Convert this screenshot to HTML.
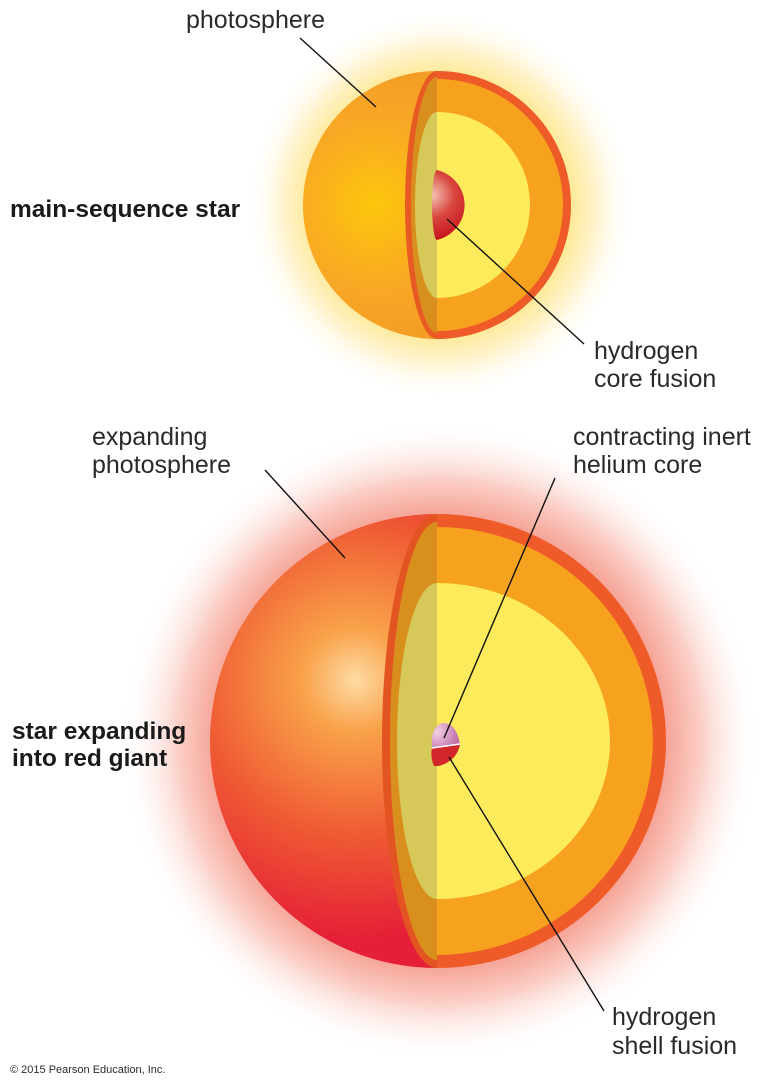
<!DOCTYPE html>
<html><head><style>
body{margin:0;background:#fff;}
svg{display:block;}
text{font-family:"Liberation Sans",sans-serif;fill:#2a2a2a;}
.l{font-size:25px;}
.b{font-size:24.5px;font-weight:bold;fill:#1a1a1a;}
</style></head><body>
<svg width="768" height="1088" viewBox="0 0 768 1088" xmlns="http://www.w3.org/2000/svg">
<defs>
<radialGradient id="g1" cx="440" cy="205" r="195" gradientUnits="userSpaceOnUse">
<stop offset="0.65" stop-color="#fde890"/><stop offset="0.8" stop-color="#fff3cc"/><stop offset="1" stop-color="#fff" stop-opacity="0"/>
</radialGradient>
<radialGradient id="g2" cx="440" cy="741" r="320" gradientUnits="userSpaceOnUse">
<stop offset="0.68" stop-color="#f59a8c"/><stop offset="0.82" stop-color="#fbd0c8"/><stop offset="1" stop-color="#fff" stop-opacity="0"/>
</radialGradient>
<radialGradient id="s1" cx="375" cy="205" r="150" gradientUnits="userSpaceOnUse">
<stop offset="0" stop-color="#fdc60c"/><stop offset="0.6" stop-color="#f8a626"/><stop offset="1" stop-color="#f39a25"/>
</radialGradient>
<radialGradient id="s2" cx="355" cy="680" r="260" gradientUnits="userSpaceOnUse">
<stop offset="0" stop-color="#fedba4"/><stop offset="0.2" stop-color="#f9a24a"/><stop offset="0.6" stop-color="#ef5a33"/><stop offset="1" stop-color="#e51f37"/>
</radialGradient>
<radialGradient id="c1" cx="432" cy="195" r="45" gradientUnits="userSpaceOnUse">
<stop offset="0" stop-color="#f4c6b8"/><stop offset="0.5" stop-color="#d9463e"/><stop offset="1" stop-color="#c8161e"/>
</radialGradient>
<radialGradient id="c2" cx="437" cy="732" r="22" gradientUnits="userSpaceOnUse">
<stop offset="0" stop-color="#f2d0e6"/><stop offset="1" stop-color="#c070a8"/>
</radialGradient>
</defs>
<circle cx="440" cy="205" r="195" fill="url(#g1)"/>
<circle cx="440" cy="741" r="320" fill="url(#g2)"/>
<!-- top star -->
<path d="M437 71 A134 134 0 0 0 437 339 Z" fill="url(#s1)"/>
<path d="M437 71 A134 134 0 0 1 437 339 Z" fill="#ee5a28"/>
<path d="M437 79 A126 126 0 0 1 437 331 Z" fill="#f7a21f"/>
<path d="M437 71 A32 134 0 0 0 437 339 Z" fill="#e85a24"/>
<path d="M437 77 A26 128 0 0 0 437 333 Z" fill="#d98f1e"/>
<path d="M437 112 A93 93 0 0 1 437 298 Z" fill="#fdeb5c"/>
<path d="M437 112 A22 93 0 0 0 437 298 Z" fill="#d6c95a"/>
<path d="M437 170 A36 36 0 0 1 437 240 A5 35 0 0 1 437 170 Z" fill="url(#c1)"/>
<!-- bottom star -->
<path d="M437 514 A227 227 0 0 0 437 968 Z" fill="url(#s2)"/>
<path d="M437 514 A229 227 0 0 1 437 968 Z" fill="#ee5a28"/>
<path d="M437 527 A216 214 0 0 1 437 955 Z" fill="#f7a21f"/>
<path d="M437 514 A55 227 0 0 0 437 968 Z" fill="#e25522"/>
<path d="M437 522 A47 219 0 0 0 437 960 Z" fill="#d98f1e"/>
<path d="M437 583 A173 158 0 0 1 437 899 Z" fill="#fdeb5c"/>
<path d="M437 583 A40 158 0 0 0 437 899 Z" fill="#d6c95a"/>
<path d="M432 748 L460 744 Q458 756 448 762 Q440 767 434 766 Q430 757 432 748 Z" fill="#d2262a"/>
<path d="M432 748 Q430 728 442 723 Q456 722 460 744 Z" fill="url(#c2)"/>
<path d="M432 748 L460 744" stroke="#fff" stroke-width="1.5"/>
<!-- leader lines -->
<g stroke="#111" stroke-width="1.4">
<line x1="300" y1="38" x2="376" y2="107"/>
<line x1="447" y1="219" x2="584" y2="344"/>
<line x1="265" y1="470" x2="345" y2="558"/>
<line x1="555" y1="478" x2="444" y2="738"/>
<line x1="449" y1="757" x2="604" y2="1011"/>
</g>
<text class="l" x="186" y="28">photosphere</text>
<text class="b" x="10" y="217">main-sequence star</text>
<text class="l" x="594" y="359">hydrogen</text>
<text class="l" x="594" y="387">core fusion</text>
<text class="l" x="92" y="445">expanding</text>
<text class="l" x="92" y="473">photosphere</text>
<text class="l" x="573" y="445">contracting inert</text>
<text class="l" x="573" y="473">helium core</text>
<text class="b" x="12" y="739">star expanding</text>
<text class="b" x="12" y="766">into red giant</text>
<text class="l" x="612" y="1025">hydrogen</text>
<text class="l" x="612" y="1054">shell fusion</text>
<text x="10" y="1073" style="font-size:11px">© 2015 Pearson Education, Inc.</text>
</svg>
</body></html>
